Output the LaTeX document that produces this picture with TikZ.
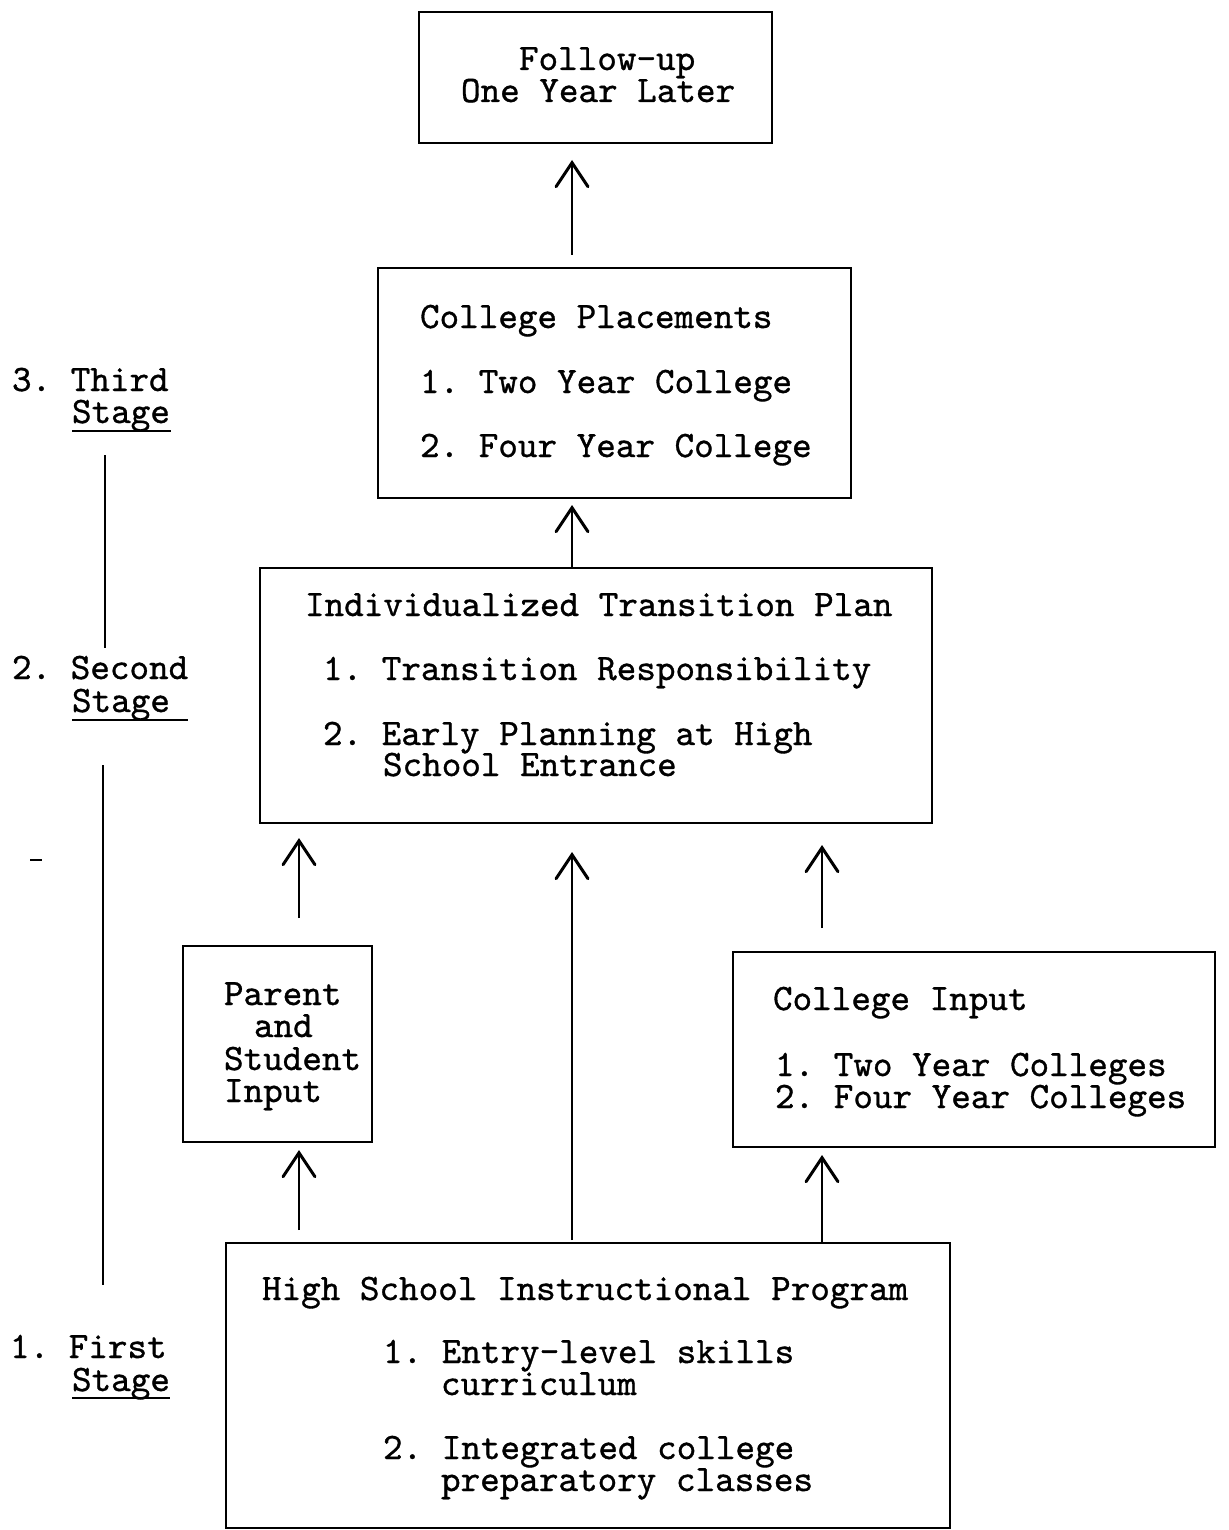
\documentclass[tikz,border=0pt]{standalone}
\usepackage{fontspec}
\newfontfamily\twfont{lmmono10-regular}[Extension=.otf, FakeBold=0.9]
\frenchspacing
\usetikzlibrary{arrows.meta}
\tikzset{
  box/.style={draw, line width=2.2pt, inner sep=0pt, outer sep=0pt},
  txt/.style={anchor=base west, inner sep=0pt, outer sep=0pt, text height=22pt, text depth=6pt, font=\twfont\fontsize{37.3pt}{32.5pt}\selectfont},
  arr/.style={line width=2pt, -{Straight Barb[length=24pt, width=32pt, line width=3pt, line cap=round]}},
  rule/.style={line width=2pt}
}
\begin{document}
\begin{tikzpicture}[x=1pt, y=-1pt]
\useasboundingbox (0,0) rectangle (1228,1530);
% boxes
\node[box, minimum width=353pt, minimum height=131pt] (fu) at (595.5,77.5) {};
\node[box, minimum width=473pt, minimum height=230pt] (cp) at (614.5,383) {};
\node[box, minimum width=672pt, minimum height=255pt] (itp) at (596,695.5) {};
\node[box, minimum width=189pt, minimum height=196pt] (par) at (277.5,1044) {};
\node[box, minimum width=482pt, minimum height=195pt] (ci) at (974,1049.5) {};
\node[box, minimum width=724pt, minimum height=285pt] (hs) at (588,1385.5) {};
% texts
\node[txt] (fu1) at (519,70) {Follow-up};
\node[txt] (fu2) at (461,102) {One Year Later};
\node[txt] (cp1) at (420,328) {College Placements};
\node[txt] (cp2) at (420,393) {1. Two Year College};
\node[txt] (cp3) at (420,457) {2. Four Year College};
\node[txt] (it1) at (305,616) {Individualized Transition Plan};
\node[txt] (it2) at (323,680) {1. Transition Responsibility};
\node[txt] (it3) at (323,745) {2. Early Planning at High};
\node[txt] (it4) at (383,776) {School Entrance};
\node[txt] (pa1) at (224,1005) {Parent};
\node[txt] (pa2) at (254,1037) {and};
\node[txt] (pa3) at (224,1070) {Student};
\node[txt] (pa4) at (224,1102) {Input};
\node[txt] (ci1) at (773,1010) {College Input};
\node[txt] (ci2) at (775,1076) {1. Two Year Colleges};
\node[txt] (ci3) at (775,1108) {2. Four Year Colleges};
\node[txt] (hs1) at (262,1300) {High School Instructional Program};
\node[txt] (hs2) at (383,1363) {1. Entry-level skills};
\node[txt] (hs3) at (441,1395) {curriculum};
\node[txt] (hs4) at (383,1459) {2. Integrated college};
\node[txt] (hs5) at (441,1491) {preparatory classes};
% stage labels
\node[txt] (s3a) at (12,391) {3. Third};
\node[txt] (s3b) at (72,423) {Stage};
\node[txt] (s2a) at (12,679) {2. Second};
\node[txt] (s2b) at (72,712) {Stage};
\node[txt] (s1a) at (10,1358) {1. First};
\node[txt] (s1b) at (72,1391) {Stage};
% underlines
\coordinate (u3a) at (72,431); \coordinate (u3b) at (171,431);
\coordinate (u2a) at (72,720); \coordinate (u2b) at (188,720);
\coordinate (u1a) at (72,1398); \coordinate (u1b) at (170,1398);
\draw[rule] (u3a) -- (u3b);
\draw[rule] (u2a) -- (u2b);
\draw[rule] (u1a) -- (u1b);
% stage connecting lines
\coordinate (v1a) at (105,455); \coordinate (v1b) at (105,648);
\coordinate (v2a) at (103,765); \coordinate (v2b) at (103,1285);
\draw[rule] (v1a) -- (v1b);
\draw[rule] (v2a) -- (v2b);
\coordinate (d1) at (30,860); \coordinate (d2) at (42,860);
\draw[rule] (d1) -- (d2);
% arrows
\draw[arr, shorten <=13pt, shorten >=17pt] (cp.north -| 572,0) -- (fu.south -| 572,0);
\draw[arr, shorten >=7pt] (itp.north -| 572,0) -- (cp.south -| 572,0);
\draw[arr, shorten <=28pt, shorten >=15pt] (par.north -| 299,0) -- (itp.south -| 299,0);
\draw[arr, shorten <=3pt, shorten >=29pt] (hs.north -| 572,0) -- (itp.south -| 572,0);
\draw[arr, shorten <=24pt, shorten >=22pt] (ci.north -| 822,0) -- (itp.south -| 822,0);
\draw[arr, shorten <=13pt, shorten >=8pt] (hs.north -| 299,0) -- (par.south -| 299,0);
\draw[arr, shorten >=8pt] (hs.north -| 822,0) -- (ci.south -| 822,0);
\end{tikzpicture}
\end{document}
